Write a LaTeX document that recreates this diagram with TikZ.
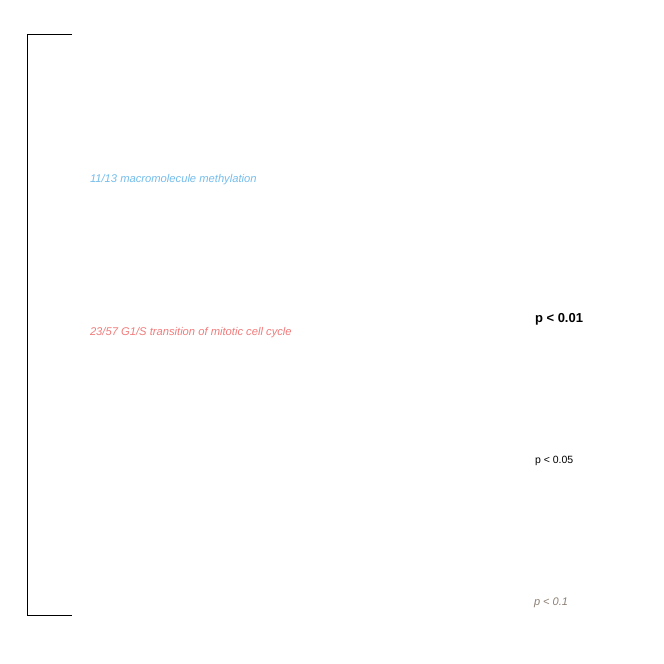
\documentclass[tikz,border=0pt]{standalone}
\usepackage{fontspec}
\setmainfont{Liberation Sans}
\definecolor{termblue}{HTML}{74BDEB}
\definecolor{termred}{HTML}{F07B7B}
\definecolor{pgray}{HTML}{8C7E72}
\begin{document}
\begin{tikzpicture}[x=1pt,y=-1pt,
  lbl/.style={anchor=base west,inner sep=0pt,outer sep=0pt},
  term/.style={lbl,font=\fontsize{11.2}{13}\selectfont\itshape}]
\useasboundingbox (0,0) rectangle (664,664);
\draw[line width=1pt] (72,34) -- (27,34) -- (27,615) -- (72,615);
\node[term,text=termblue] (t1) at (90,182) {11/13 macromolecule methylation};
\node[term,text=termred] (t2) at (90,335) {23/57 G1/S transition of mitotic cell cycle};
\node[lbl,font=\fontsize{13}{15}\selectfont\bfseries] (p1) at (535,322) {p < 0.01};
\node[lbl,font=\fontsize{10.5}{12}\selectfont] (p2) at (535,463) {p < 0.05};
\node[lbl,font=\fontsize{11}{13}\selectfont\itshape,text=pgray] (p3) at (534,605) {p < 0.1};
\end{tikzpicture}
\end{document}
